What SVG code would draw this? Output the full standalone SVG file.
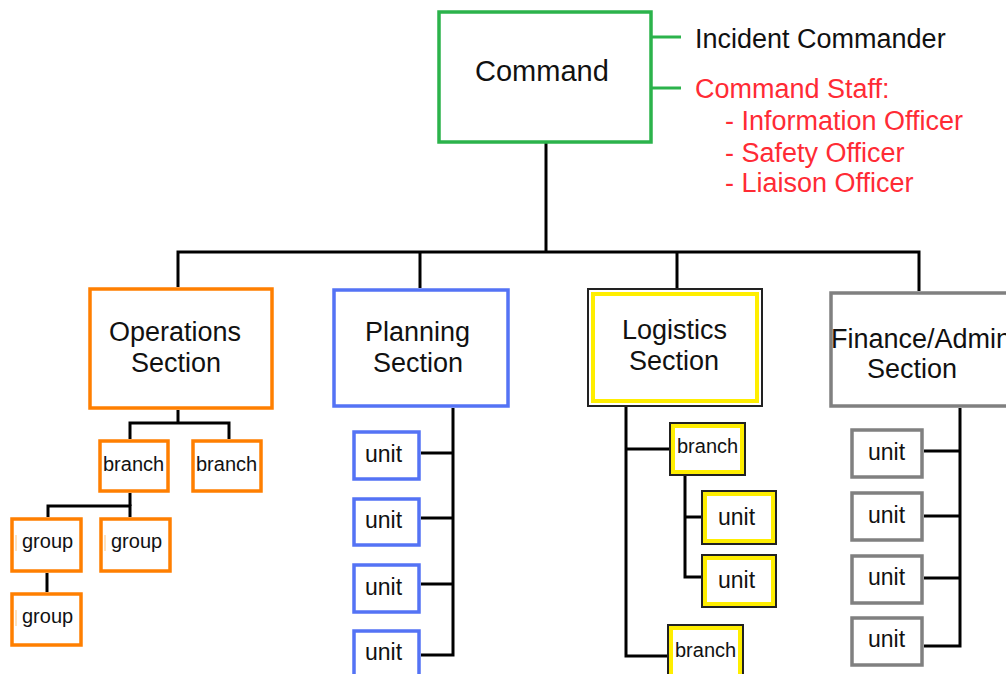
<svg xmlns="http://www.w3.org/2000/svg" width="1006" height="674" viewBox="0 0 1006 674">
<style>
  text { font-family: "Liberation Sans", Arial, sans-serif; fill: #111; }
  .big { font-size: 27px; }
  .cmd { font-size: 29px; }
  .red { fill: #ff2b35; }
  .sm { font-size: 20px; }
  .unit { font-size: 23px; }
  .box { fill: #fff; stroke-width: 3.5; }
  .green { stroke: #2bb34b; }
  .orange { stroke: #ff7f00; }
  .blue { stroke: #5473f5; }
  .gray { stroke: #808080; }
  .ybk { fill: #fff; stroke: #222; stroke-width: 2; }
  .yin { fill: none; stroke: #ffee00; stroke-width: 4; }
  .cur { stroke: #ffd9a8; stroke-width: 1.5; }
  .conn path { fill: none; stroke: #000; stroke-width: 3; stroke-linejoin: miter; }
  .gconn path { fill: none; stroke: #2bb34b; stroke-width: 3; }
</style>

<g id="connectors" class="conn">
  <path d="M546 143 V252"/>
  <path d="M178 287 V252 H919 V291"/>
  <path d="M420 252 V288"/>
  <path d="M677 252 V288"/>
  <path d="M178 410 V423"/>
  <path d="M130 439 V423 H229 V439"/>
  <path d="M130 493 V506"/>
  <path d="M48 517 V506 H130 V517"/>
  <path d="M47 573 V592"/>
  <path d="M453 408 V655 H421"/>
  <path d="M421 453 H453"/>
  <path d="M421 518 H453"/>
  <path d="M421 584 H453"/>
  <path d="M626 407 V656 H667"/>
  <path d="M626 449 H669"/>
  <path d="M685 476 V577 H701"/>
  <path d="M685 517 H701"/>
  <path d="M960 408 V646 H924"/>
  <path d="M924 451 H960"/>
  <path d="M924 516 H960"/>
  <path d="M924 578 H960"/>
</g>
<g id="command-connectors" class="gconn">
  <path d="M652 37 H681"/>
  <path d="M652 88 H681"/>
</g>

<g id="command">
  <rect class="box green" x="439" y="12" width="212" height="130"/>
  <text class="cmd" x="475" y="81">Command</text>
</g>
<g id="command-labels">
  <text class="big" x="695" y="48">Incident Commander</text>
  <text class="big red" x="695" y="98">Command Staff:</text>
  <text class="big red" x="725" y="130">- Information Officer</text>
  <text class="big red" x="725" y="162">- Safety Officer</text>
  <text class="big red" x="725" y="192">- Liaison Officer</text>
</g>

<g id="operations">
  <rect class="box orange" x="90" y="289" width="182" height="119"/>
  <text class="big" x="109" y="341">Operations</text>
  <text class="big" x="131" y="372">Section</text>
</g>
<g id="ops-branch-1">
  <rect class="box orange" x="100" y="441" width="68" height="50"/>
  <text class="sm" x="103" y="471">branch</text>
</g>
<g id="ops-branch-2">
  <rect class="box orange" x="193" y="441" width="68" height="50"/>
  <text class="sm" x="196" y="471">branch</text>
</g>
<g id="ops-group-1">
  <rect class="box orange" x="12" y="519" width="69" height="52"/>
  <line class="cur" x1="16" y1="535" x2="16" y2="551"/>
  <text class="sm" x="22" y="548">group</text>
</g>
<g id="ops-group-2">
  <rect class="box orange" x="101" y="519" width="69" height="52"/>
  <line class="cur" x1="105" y1="535" x2="105" y2="551"/>
  <text class="sm" x="111" y="548">group</text>
</g>
<g id="ops-group-3">
  <rect class="box orange" x="12" y="594" width="69" height="51"/>
  <line class="cur" x1="16" y1="610" x2="16" y2="626"/>
  <text class="sm" x="22" y="623">group</text>
</g>

<g id="planning">
  <rect class="box blue" x="334" y="290" width="174" height="116"/>
  <text class="big" x="365" y="341">Planning</text>
  <text class="big" x="373" y="372">Section</text>
</g>
<g id="plan-unit-1">
  <rect class="box blue" x="354" y="432" width="65" height="47"/>
  <text class="unit" x="365" y="462">unit</text>
</g>
<g id="plan-unit-2">
  <rect class="box blue" x="354" y="499" width="65" height="46"/>
  <text class="unit" x="365" y="528">unit</text>
</g>
<g id="plan-unit-3">
  <rect class="box blue" x="354" y="565" width="65" height="47"/>
  <text class="unit" x="365" y="595">unit</text>
</g>
<g id="plan-unit-4">
  <rect class="box blue" x="354" y="631" width="65" height="60"/>
  <text class="unit" x="365" y="660">unit</text>
</g>

<g id="logistics">
  <rect class="ybk" x="588" y="289" width="174" height="117"/>
  <rect class="yin" x="593" y="294" width="164" height="107"/>
  <text class="big" x="622" y="339">Logistics</text>
  <text class="big" x="629" y="370">Section</text>
</g>
<g id="log-branch-1">
  <rect class="ybk" x="670" y="423" width="75" height="52"/>
  <rect class="yin" x="673" y="426" width="69" height="46"/>
  <text class="sm" x="677" y="453">branch</text>
</g>
<g id="log-unit-1">
  <rect class="ybk" x="702" y="491" width="74" height="53"/>
  <rect class="yin" x="705" y="494" width="68" height="47"/>
  <text class="unit" x="718" y="525">unit</text>
</g>
<g id="log-unit-2">
  <rect class="ybk" x="702" y="555" width="74" height="52"/>
  <rect class="yin" x="705" y="558" width="68" height="46"/>
  <text class="unit" x="718" y="588">unit</text>
</g>
<g id="log-branch-2">
  <rect class="ybk" x="668" y="625" width="75" height="60"/>
  <rect class="yin" x="671" y="628" width="69" height="54"/>
  <text class="sm" x="675" y="657">branch</text>
</g>

<g id="finance">
  <rect class="box gray" x="831" y="293" width="180" height="113"/>
  <text class="big" x="831" y="348">Finance/Admin</text>
  <text class="big" x="867" y="378">Section</text>
</g>
<g id="fin-unit-1">
  <rect class="box gray" x="852" y="430" width="70" height="47"/>
  <text class="unit" x="868" y="460">unit</text>
</g>
<g id="fin-unit-2">
  <rect class="box gray" x="852" y="493" width="70" height="47"/>
  <text class="unit" x="868" y="523">unit</text>
</g>
<g id="fin-unit-3">
  <rect class="box gray" x="852" y="556" width="70" height="47"/>
  <text class="unit" x="868" y="585">unit</text>
</g>
<g id="fin-unit-4">
  <rect class="box gray" x="852" y="618" width="70" height="47"/>
  <text class="unit" x="868" y="647">unit</text>
</g>
</svg>
